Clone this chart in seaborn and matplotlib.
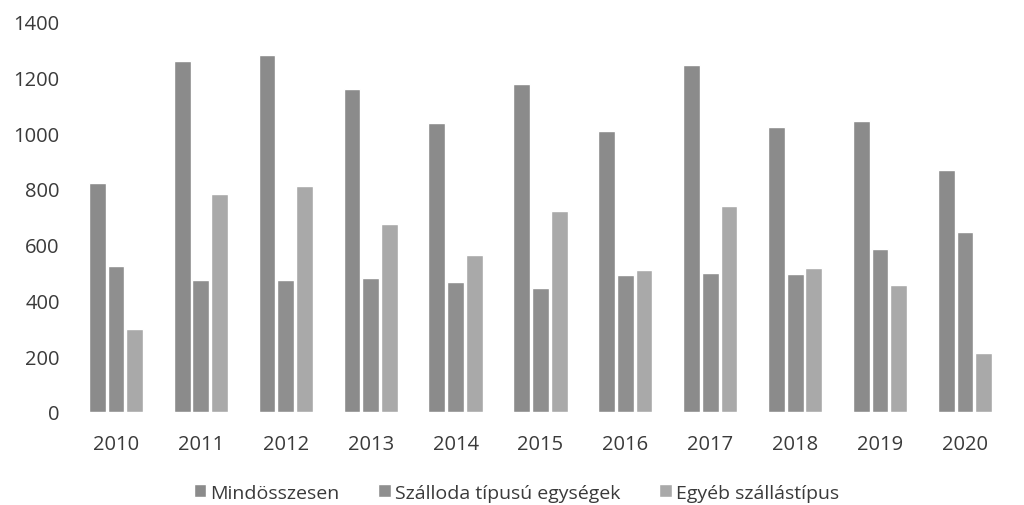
import matplotlib
matplotlib.use('Agg')
import matplotlib.pyplot as plt
import pandas as pd
import seaborn as sns

years = ['2010', '2011', '2012', '2013', '2014', '2015', '2016', '2017', '2018', '2019', '2020']
series = ['Mindösszesen', 'Szálloda típusú egységek', 'Egyéb szállástípus']
mindosszesen = [822, 1260, 1282, 1160, 1035, 1175, 1008, 1245, 1023, 1045, 868]
szalloda = [522, 474, 474, 482, 465, 445, 493, 499, 495, 585, 646]
egyeb = [298, 783, 809, 675, 563, 720, 510, 740, 518, 456, 212]

df = pd.DataFrame({'year': years, series[0]: mindosszesen, series[1]: szalloda, series[2]: egyeb})
df = df.melt(id_vars='year', var_name='series', value_name='value')

sns.set_style('white')
plt.rcParams['font.family'] = ['Open Sans', 'DejaVu Sans']

fig = plt.figure(figsize=(10.24, 5.06), dpi=100)
ax = fig.add_axes([0.0718, 0.184, 0.912, 0.771])

palette = ['#8b8b8b', '#8f8f8f', '#a9a9a9']
sns.barplot(data=df, x='year', y='value', hue='series', palette=palette,
            width=0.66, gap=0.1, ax=ax, saturation=1, legend=True)

ax.set_ylim(0, 1400)
ax.set_yticks(range(0, 1401, 200))
ax.set_xlim(-0.5, 10.5)
ax.set_xlabel('')
ax.set_ylabel('')
for s in ax.spines.values():
    s.set_visible(False)
ax.tick_params(axis='both', length=0, labelsize=14.5, colors='#3a3a3a')
ax.tick_params(axis='x', pad=16)
ax.tick_params(axis='y', pad=10)

handles, labels = ax.get_legend_handles_labels()
ax.legend(handles, labels, loc='center', bbox_to_anchor=(0.474, -0.207), ncol=3,
          frameon=False, fontsize=14, handlelength=0.65, handleheight=0.65,
          handletextpad=0.2, columnspacing=2.0, labelcolor='#3a3a3a')

fig.savefig('out.png', dpi=100)
